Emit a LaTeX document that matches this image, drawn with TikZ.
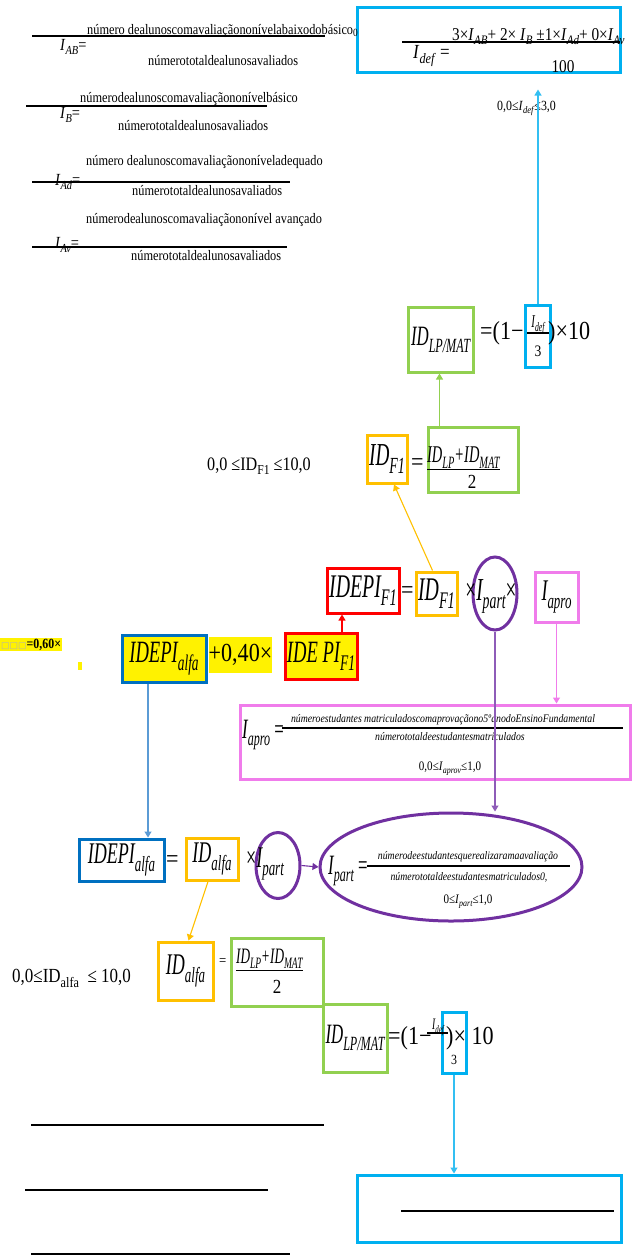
\documentclass[tikz,border=0pt]{standalone}
\usepackage{fontspec}
\setmainfont{Liberation Serif}
\newfontfamily\cond[FakeStretch=0.85]{Liberation Serif}
\newfontfamily\narr[FakeStretch=0.6]{Liberation Serif}
\newfontfamily\symb{DejaVu Sans}
\usetikzlibrary{arrows.meta,positioning,shapes.geometric}

\definecolor{cyanb}{HTML}{00B0F0}
\definecolor{cyanl}{HTML}{33BFF2}
\definecolor{greenb}{HTML}{92D050}
\definecolor{orangeb}{HTML}{FFC000}
\definecolor{redb}{HTML}{FF0000}
\definecolor{purpleb}{HTML}{7030A0}
\definecolor{purplel}{HTML}{8E5CB8}
\definecolor{pinkb}{HTML}{F07CEB}
\definecolor{blueb}{HTML}{0070C0}
\definecolor{bluel}{HTML}{5B9BD5}

\newcommand\lo[1]{\raisebox{-0.25em}{\scalebox{0.72}{#1}}}
\newcommand\iv[2]{\textit{#1}\lo{\textit{#2}}}

\tikzset{
	box/.style={draw=#1, line width=3pt, inner sep=0pt},
	hl/.style={fill=yellow, inner sep=1pt},
	link/.style={draw=#1, line width=1.1pt, -{Triangle[width=7pt,length=6pt]}},
	frac/.style={line width=1.6pt},
	lbl/.style={inner sep=0pt, font=\narr\itshape\fontsize{#1}{#1}\selectfont},
	txt/.style={inner sep=0pt, font=\cond\fontsize{#1}{#1}\selectfont},
	itxt/.style={inner sep=0pt, font=\cond\itshape\fontsize{#1}{#1}\selectfont},
}

\begin{document}
\begin{tikzpicture}[x=1pt,y=-1pt]
	\useasboundingbox (0,0) rectangle (636,1259);

	\node (numab) [txt=14.5, anchor=base west] at (87,34) {número dealunoscomavaliaçãononívelabaixodobásico};
	\node (eqab) [txt=17, anchor=base west] at (60,50) {\iv{I}{AB}=};
	\node (denab) [txt=14.5, anchor=base west] at (148,65) {númerototaldealunosavaliados};
	\draw [frac] (32,36) -- (325,36);

	\node (numb) [txt=14.5, anchor=base west] at (80,102) {númerodealunoscomavaliaçãononívelbásico};
	\node (eqb) [txt=17, anchor=base west] at (60,118) {\iv{I}{B}=};
	\node (denb) [txt=14.5, anchor=base west] at (118,130) {númerototaldealunosavaliados};
	\draw [frac] (26,106) -- (267,106);

	\node (numad) [txt=14.5, anchor=base west] at (86,165) {número dealunoscomavaliaçãononíveladequado};
	\node (eqad) [txt=17, anchor=base west] at (55,185) {\iv{I}{Ad}=};
	\node (denad) [txt=14.5, anchor=base west] at (132,195) {númerototaldealunosavaliados};
	\draw [frac] (32,182) -- (290,182);

	\node (numav) [txt=14.5, anchor=base west] at (86,223) {númerodealunoscomavaliaçãononível avançado};
	\node (eqav) [txt=17, anchor=base west] at (55,248) {\iv{I}{Av}=};
	\node (denav) [txt=14.5, anchor=base west] at (131,260) {númerototaldealunosavaliados};
	\draw [frac] (32,247) -- (287,247);

	\node (idefbox) [box=cyanb, minimum width=263pt, minimum height=65pt] at (488.5,39.5) {};
	\node (zero) [txt=11, anchor=base west] at (353,36) {0};
	\draw [frac] (402,42) -- (620,42);
	\node (numdef) [txt=18, anchor=base west] at (452,40) {3×\iv{I}{AB}+ 2× \iv{I}{B} ±1×\iv{I}{Ad}+ 0×\iv{I}{Av}};
	\node (eqdef) [txt=20, anchor=base west] at (413,58) {\iv{I}{def} =};
	\node (hundred) [txt=18, anchor=base] at (563,72) {100};
	\node (rngdef) [txt=14, anchor=base west] at (497,110) {0,0≤\iv{I}{def}≤3,0};

	\node (lpmat1) [box=greenb, minimum width=65pt, minimum height=65pt, lbl=28] at (440.5,339.5) {ID\lo{LP/MAT}};
	\node (eq1) [txt=26, anchor=west] at (480,333) {=(1−};
	\node (fracbox1) [box=cyanb, minimum width=25pt, minimum height=62pt] at (538,336.5) {};
	\node (idef1) [lbl=18, anchor=base] at (538,327) {I\lo{def}};
	\draw [line width=1.2pt] (527,333) -- (549,333);
	\node (three1) [txt=16, anchor=base] at (538,356) {3};
	\node (times1) [txt=26, anchor=west] at (548,333) {)×10};

	\node (lpsum1) [box=greenb, minimum width=90pt, minimum height=65pt] at (473,459.5) {};
	\node (numsum1) [lbl=24, anchor=base west] at (427,462) {\underline{ID\lo{LP}+ID\lo{MAT}}};
	\node (two1) [txt=20, anchor=base] at (472,488) {2};
	\node (idftop) [box=orangeb, minimum width=40pt, minimum height=48pt, lbl=32] at (387,459) {ID\lo{F1}};
	\node (eqf1) [txt=26, anchor=west] at (411,465) {=};
	\node (rngf1) [txt=19, anchor=base west] at (207,470) {0,0 ≤ID\lo{F1} ≤10,0};

	\node (idepiup) [box=redb, minimum width=72pt, minimum height=45pt, lbl=33] at (363,590.5) {IDEPI\lo{F1}};
	\node (eqrow) [txt=26, anchor=west] at (401,593) {=};
	\node (idfrow) [box=orangeb, minimum width=41pt, minimum height=43pt, lbl=33] at (436.5,593.5) {ID\lo{F1}};
	\node (partup) [ellipse, draw=purpleb, line width=3pt, minimum width=44pt, minimum height=73pt, inner sep=0pt] at (495,593.5) {};
	\node (xpart) [lbl=32] at (491,596) {\upshape×\itshape I\lo{part}\upshape×};
	\node (iapro) [box=pinkb, minimum width=43pt, minimum height=50pt, lbl=30] at (556.5,597) {I\lo{apro}};

	\node (lead) [hl, anchor=west, font=\cond\bfseries\fontsize{14}{14}\selectfont] at (0,644.5) {\textcolor{gray!60}{\symb\mdseries\fontsize{9}{9}\selectfont □□□}=0,60×};
	\node (dot) [fill=yellow, minimum width=4pt, minimum height=8pt, inner sep=0pt] at (80,665.5) {};
	\node (idepialfa) [box=blueb, fill=yellow, minimum width=84pt, minimum height=47pt, lbl=31] at (164,658.5) {IDEPI\lo{alfa}};
	\node (plus) [hl, txt=26, minimum width=63pt, minimum height=36pt] at (240.5,655) {+0,40×};
	\node (idepilow) [box=redb, fill=yellow, minimum width=72pt, minimum height=46pt, lbl=31] at (321,656) {IDE PI\lo{F1}};

	\node (aprobox) [box=pinkb, minimum width=390pt, minimum height=74pt] at (435,742) {};
	\node (eqapro) [lbl=28, anchor=base west] at (242,738) {I\lo{apro} \upshape=};
	\node (numapro) [itxt=11.5, anchor=base] at (443,722) {númeroestudantes matriculadoscomaprovaçãono5ºanodoEnsinoFundamental};
	\draw [line width=1.2pt] (282,728) -- (623,728);
	\node (denapro) [itxt=11.5, anchor=base] at (450,740) {númerototaldeestudantesmatriculados};
	\node (rngapro) [txt=13, anchor=base] at (450,770) {0,0≤\iv{I}{aprov}≤1,0};

	\node (idepialfa2) [box=blueb, minimum width=85pt, minimum height=42pt, lbl=30] at (121.5,860) {IDEPI\lo{alfa}};
	\node (eqalfa) [txt=26, anchor=west] at (166,862) {=};
	\node (idalfa) [box=orangeb, minimum width=52pt, minimum height=42pt, lbl=30] at (212,859) {ID\lo{alfa}};
	\node (partlow) [ellipse, draw=purpleb, line width=3pt, minimum width=44pt, minimum height=66pt, inner sep=0pt] at (278,865.5) {};
	\node (xpart2) [lbl=30] at (265,864) {\upshape×\itshape I\lo{part}};
	\node (partbig) [ellipse, draw=purpleb, line width=3pt, minimum width=262pt, minimum height=108pt, inner sep=0pt] at (451,867) {};
	\node (eqpart) [lbl=28, anchor=base west] at (328,874) {I\lo{part} \upshape=};
	\node (numpart) [itxt=11.5, anchor=base] at (468,859) {númerodeestudantesquerealizaramaavaliação};
	\draw [line width=1.2pt] (367,866) -- (570,866);
	\node (denpart) [itxt=11.5, anchor=base] at (469,880) {númerototaldeestudantesmatriculados0,};
	\node (rngpart) [txt=13, anchor=base] at (468,903) {0≤\iv{I}{part}≤1,0};

	\node (idalfa2) [box=orangeb, minimum width=55pt, minimum height=58pt, lbl=30] at (185.5,971) {ID\lo{alfa}};
	\node (rngalfa) [txt=20, anchor=base west] at (12,982) {0,0≤ID\lo{alfa}\ \ ≤ 10,0};
	\node (eqsum2) [txt=15, anchor=west] at (219,962) {=};
	\node (lpsum2) [box=greenb, minimum width=92pt, minimum height=68pt] at (277,972) {};
	\node (numsum2) [lbl=22, anchor=base west] at (236,963) {\underline{ID\lo{LP}+ID\lo{MAT}}};
	\node (two2) [txt=20, anchor=base] at (277,993) {2};
	\node (lpmat2) [box=greenb, minimum width=64pt, minimum height=68pt, lbl=28] at (355,1038) {ID\lo{LP/MAT}};
	\node (eq2) [txt=26, anchor=west] at (388,1038) {=(1−};
	\node (fracbox2) [box=cyanb, minimum width=24pt, minimum height=61pt] at (454,1042.5) {};
	\node (idef2) [lbl=16, anchor=base] at (438,1029) {I\lo{def}};
	\draw [line width=1.2pt] (427,1033) -- (448,1033);
	\node (three2) [txt=14, anchor=base] at (454,1064) {3};
	\node (times2) [txt=26, anchor=west] at (446,1038) {)× 10};

	\node (endbox) [box=cyanb, minimum width=264pt, minimum height=67pt] at (489,1208.5) {};
	\draw [frac] (401,1211) -- (614,1211);

	\draw [link=cyanl, shorten >=16pt] (fracbox1.north) -- (fracbox1.north |- idefbox.south);
	\draw [link=greenb] ([xshift=13pt]lpsum1.north west) -- ([xshift=13pt]lpsum1.north west |- lpmat1.south);
	\draw [link=redb] ([xshift=21pt]idepilow.north) -- ([xshift=21pt]idepilow.north |- idepiup.south);
	\draw [link=orangeb] ([xshift=-4pt]idfrow.north) -- ([xshift=7pt]idftop.south);
	\draw [link=purplel] (partup.south) -- (partup.south |- partbig.north);
	\draw [link=pinkb] (iapro.south) -- (iapro.south |- aprobox.north);
	\draw [link=bluel] ([xshift=-16pt]idepialfa.south) -- ([xshift=-16pt]idepialfa.south |- idepialfa2.north);
	\draw [link=purpleb] (partlow.east) -- (partbig.west);
	\draw [link=orangeb] ([xshift=-4pt]idalfa.south) -- ([xshift=3pt]idalfa2.north);
	\draw [link=cyanl] (fracbox2.south) -- (fracbox2.south |- endbox.north);

	\draw [frac] (31,1125) -- (324,1125);
	\draw [frac] (25,1190) -- (268,1190);
	\draw [frac] (31,1254) -- (290,1254);
\end{tikzpicture}
\end{document}
